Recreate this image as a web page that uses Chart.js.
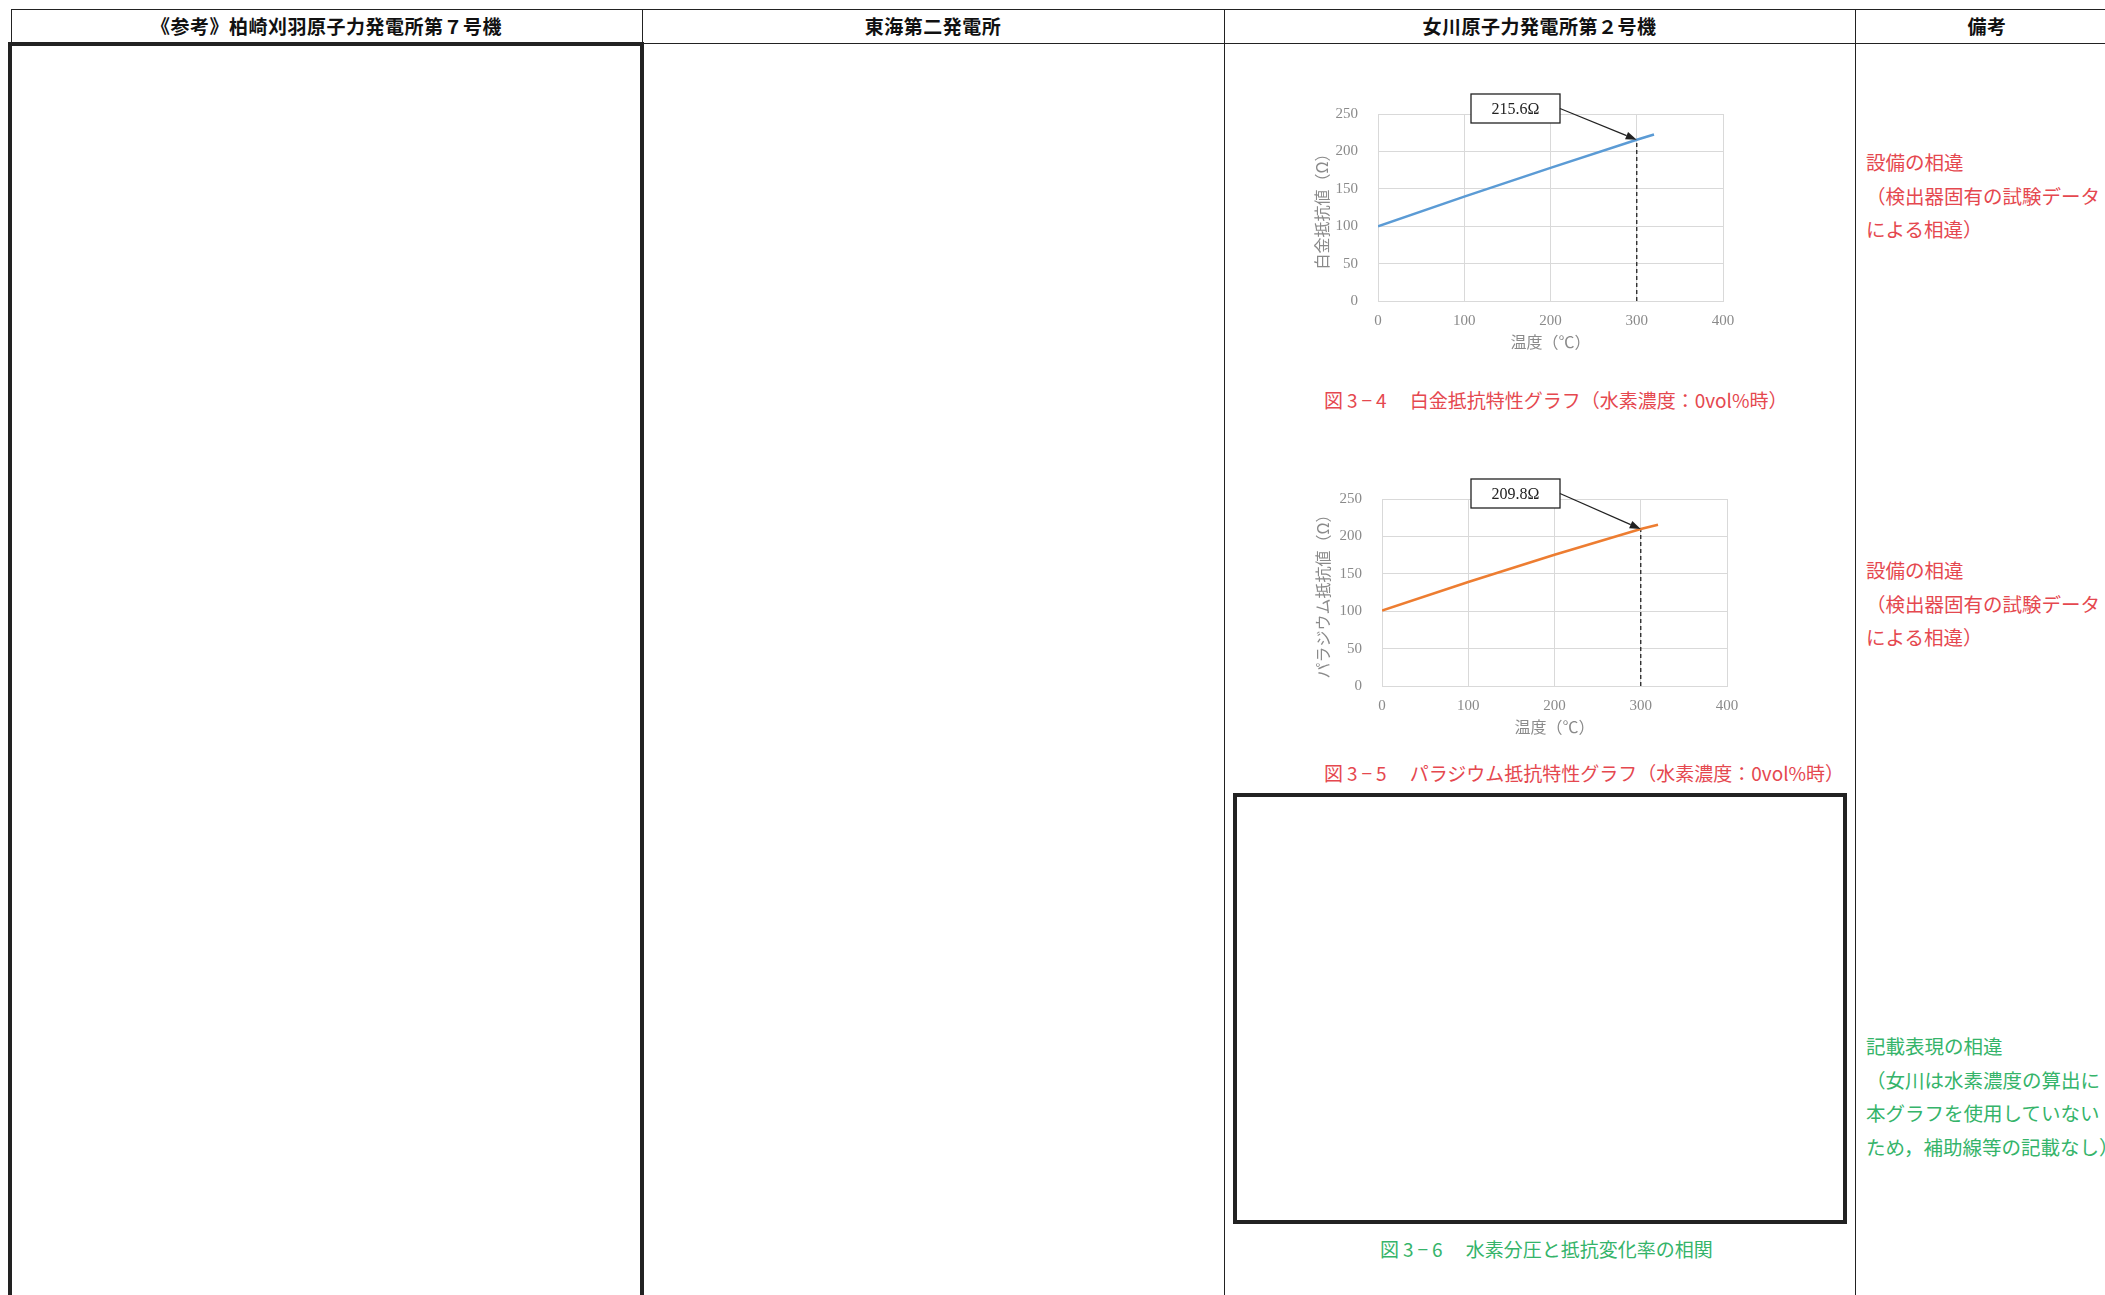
<!DOCTYPE html>
<html lang="ja">
<head>
<meta charset="utf-8">
<title>白金・パラジウム抵抗特性グラフ</title>
<script src="https://cdn.jsdelivr.net/npm/chart.js@4.4.1/dist/chart.umd.min.js"></script>
<style>
  html, body { margin: 0; padding: 0; background: #fff; }
  body { width: 2105px; height: 1295px; overflow: hidden; position: relative; font-family: "Noto Sans CJK JP", sans-serif; }
  .vl { position: absolute; top: 9px; bottom: 0; width: 1px; background: #222; }
  .hl { position: absolute; left: 11px; right: 0; height: 1px; background: #222; }
  .hd { position: absolute; top: 9px; height: 34px; line-height: 34px; text-align: center; font-weight: 700; font-size: 19px; letter-spacing: 0.5px; color: #111; }
  .box { position: absolute; border: 4px solid #222; box-sizing: border-box; }
  .cap { position: absolute; font-size: 19px; line-height: 24px; white-space: nowrap; }
  .cap .no { letter-spacing: 4px; }
  .note { position: absolute; left: 1866px; font-size: 19.5px; line-height: 33.6px; white-space: nowrap; }
  .red { color: #e5484f; }
  .green { color: #35b46a; }
  canvas { position: absolute; }
</style>
</head>
<body>

<!-- 表の罫線 -->
<div class="hl" style="top:9px"></div>
<div class="hl" style="top:43px"></div>
<div class="vl" style="left:11px"></div>
<div class="vl" style="left:642px"></div>
<div class="vl" style="left:1224px"></div>
<div class="vl" style="left:1855px"></div>

<!-- 見出し -->
<div class="hd" style="left:11px;width:631px">《参考》柏崎刈羽原子力発電所第７号機</div>
<div class="hd" style="left:642px;width:582px">東海第二発電所</div>
<div class="hd" style="left:1224px;width:631px">女川原子力発電所第２号機</div>
<div class="hd" style="left:1855px;width:264px">備考</div>

<!-- 太枠 -->
<div class="box" style="left:8px;top:42px;width:636px;height:1400px"></div>
<div class="box" style="left:1233px;top:793px;width:614px;height:431px"></div>

<canvas id="ptChart" width="460" height="280" style="left:1300px;top:85px"></canvas>
<canvas id="pdChart" width="460" height="280" style="left:1300px;top:470px"></canvas>

<div class="cap red" style="left:1324px;top:388px"><span class="no">図3−4</span>　白金抵抗特性グラフ（水素濃度：0vol%時）</div>
<div class="cap red" style="left:1324px;top:761px"><span class="no">図3−5</span>　パラジウム抵抗特性グラフ（水素濃度：0vol%時）</div>
<div class="cap green" style="left:1380px;top:1237px"><span class="no">図3−6</span>　水素分圧と抵抗変化率の相関</div>

<!-- 備考欄 -->
<div class="note red" style="top:145px">設備の相違<br>（検出器固有の試験データ<br>による相違）</div>
<div class="note red" style="top:553px">設備の相違<br>（検出器固有の試験データ<br>による相違）</div>
<div class="note green" style="top:1029px">記載表現の相違<br>（女川は水素濃度の算出に<br>本グラフを使用していない<br>ため，補助線等の記載なし）</div>

<script>
// ===== データ =====
const temps = [0, 100, 200, 300, 320];            // 温度 (℃)
const ptOhm = [100, 139.5, 178, 215.6, 222.5];    // 白金抵抗値 (Ω)
const pdOhm = [101, 139, 175.5, 209.8, 215.5];    // パラジウム抵抗値 (Ω)
const xTicks = [0, 100, 200, 300, 400];
const yTicks = [0, 50, 100, 150, 200, 250];
const markTemp = 300;
const ptMark = 215.6;
const pdMark = 209.8;

const GRAY = '#8a8a8a';
const GRID = '#d9d9d9';
Chart.defaults.font.family = '"Liberation Serif", "Noto Sans CJK JP", serif';

// 吹き出し（値ラベル＋矢印）
const calloutPlugin = {
  id: 'callout',
  afterDatasetsDraw(chart, args, o) {
    const { ctx, chartArea, scales } = chart;
    const px = scales.x.getPixelForValue(o.x);
    const py = scales.y.getPixelForValue(o.y);
    const bx = chartArea.left + o.dx;
    const by = chartArea.top + o.dy;
    ctx.save();
    // 箱
    ctx.fillStyle = '#fff';
    ctx.strokeStyle = '#222';
    ctx.lineWidth = 1.3;
    ctx.fillRect(bx, by, o.w, o.h);
    ctx.strokeRect(bx, by, o.w, o.h);
    ctx.fillStyle = '#222';
    ctx.font = '16px "Liberation Serif", "Noto Sans CJK JP", serif';
    ctx.textAlign = 'center';
    ctx.textBaseline = 'middle';
    ctx.fillText(o.text, bx + o.w / 2, by + o.h / 2 + 1);
    // 矢印
    const sx = bx + o.w, sy = by + o.h / 2;
    const ang = Math.atan2(py - sy, px - sx);
    const len = 11, half = 4;
    const baseX = px - len * Math.cos(ang), baseY = py - len * Math.sin(ang);
    ctx.beginPath();
    ctx.moveTo(sx, sy);
    ctx.lineTo(baseX, baseY);
    ctx.lineWidth = 1.2;
    ctx.stroke();
    ctx.beginPath();
    ctx.moveTo(px, py);
    ctx.lineTo(baseX + half * Math.sin(ang), baseY - half * Math.cos(ang));
    ctx.lineTo(baseX - half * Math.sin(ang), baseY + half * Math.cos(ang));
    ctx.closePath();
    ctx.fill();
    ctx.restore();
  }
};

function makeChart(id, values, mark, color, yTitle, yWidth, titlePad) {
  const ctx = document.getElementById(id).getContext('2d');
  return new Chart(ctx, {
    type: 'scatter',
    data: {
      datasets: [
        {
          data: temps.map((t, i) => ({ x: t, y: values[i] })),
          showLine: true,
          borderColor: color,
          borderWidth: 2.5,
          pointRadius: 0,
          tension: 0
        },
        {
          data: [{ x: markTemp, y: 0 }, { x: markTemp, y: mark }],
          showLine: true,
          borderColor: '#222',
          borderWidth: 1.3,
          borderDash: [4, 3],
          pointRadius: 0
        }
      ]
    },
    options: {
      responsive: false,
      animation: false,
      layout: { padding: { left: 0, top: 28, right: 460 - yWidth - 345, bottom: 0 } },
      plugins: {
        legend: { display: false },
        tooltip: { enabled: false },
        callout: {
          x: markTemp, y: mark, text: mark.toFixed(1) + 'Ω',
          dx: 93 - (yWidth - 78), dy: -20, w: 89, h: 29
        }
      },
      scales: {
        x: {
          type: 'linear',
          min: xTicks[0],
          max: xTicks[xTicks.length - 1],
          afterBuildTicks: s => { s.ticks = xTicks.map(v => ({ value: v })); },
          afterFit: s => { s.height = 280 - 28 - 188; },
          ticks: { color: GRAY, font: { size: 15 }, padding: 11 },
          grid: { color: GRID, drawTicks: false },
          border: { color: GRID },
          title: {
            display: true, text: '温度（℃）', color: GRAY,
            font: { size: 16, family: '"Noto Sans CJK JP", sans-serif' },
            padding: { top: 0, bottom: 13.5 }
          }
        },
        y: {
          min: yTicks[0],
          max: yTicks[yTicks.length - 1],
          afterBuildTicks: s => { s.ticks = yTicks.map(v => ({ value: v })); },
          afterFit: s => { s.width = yWidth; },
          ticks: { color: GRAY, font: { size: 15 }, padding: 20 },
          grid: { color: GRID, drawTicks: false },
          border: { color: GRID },
          title: {
            display: true, text: yTitle, color: GRAY,
            font: { size: 16, family: '"Noto Sans CJK JP", sans-serif' },
            padding: { top: titlePad, bottom: 0 }
          }
        }
      }
    },
    plugins: [calloutPlugin]
  });
}

document.addEventListener('DOMContentLoaded', () => {
  makeChart('ptChart', ptOhm, ptMark, '#5b9bd5', '白金抵抗値（Ω）', 78, 12);
  makeChart('pdChart', pdOhm, pdMark, '#ed7d31', 'パラジウム抵抗値（Ω）', 82, 13);
});
</script>
</body>
</html>
